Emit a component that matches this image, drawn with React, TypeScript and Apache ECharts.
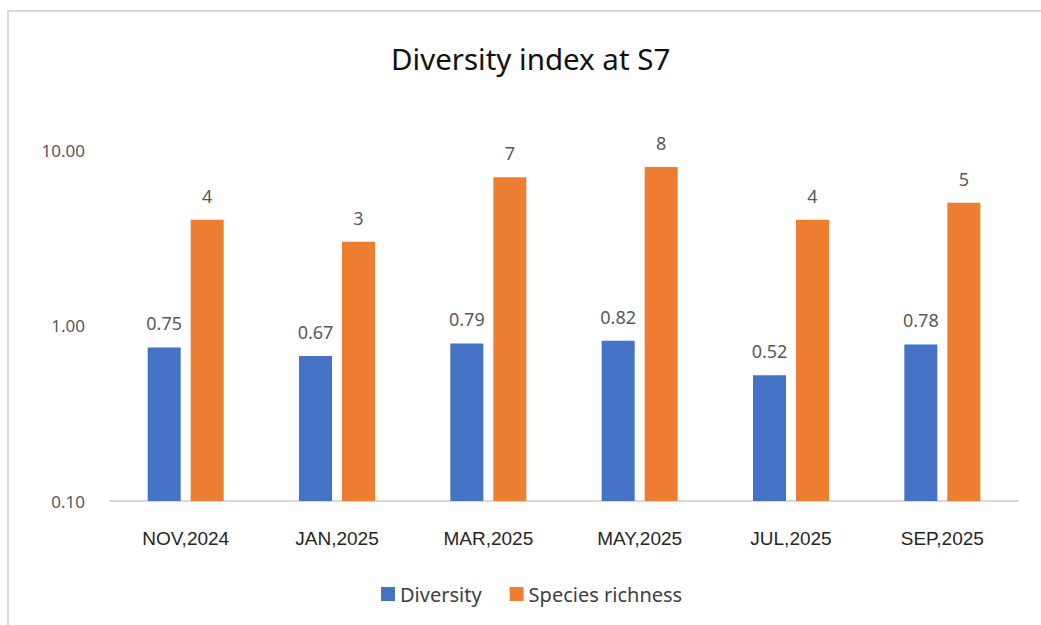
import React, { useEffect, useRef } from "react";
import * as echarts from "echarts";

const categories = ["NOV,2024", "JAN,2025", "MAR,2025", "MAY,2025", "JUL,2025", "SEP,2025"];
const diversity = [0.75, 0.67, 0.79, 0.82, 0.52, 0.78];
const speciesRichness = [4, 3, 7, 8, 4, 5];
const seriesNames = ["Diversity", "Species richness"];
const seriesColors = ["#4472C4", "#ED7D31"];
const titleText = "Diversity index at S7";
const axisMin = 0.1;
const axisMax = 10;

const BAR_W = 33;
const BAR_GAP = 10;

function makeRender(offsetSign: number, color: string, fmt: (v: number) => string) {
  return (params: any, api: any) => {
    const idx = api.value(0);
    const val = api.value(1);
    const top = api.coord([idx, val]);
    const base = api.coord([idx, axisMin]);
    const cx = top[0] + offsetSign * (BAR_W / 2 + BAR_GAP / 2);
    return {
      type: "rect",
      shape: { x: cx - BAR_W / 2, y: top[1], width: BAR_W, height: base[1] - top[1] },
      style: { fill: color },
      textContent: {
        style: {
          text: fmt(val),
          fill: "#595959",
          fontSize: 18,
          fontFamily: "Noto Sans",
        },
      },
      textConfig: { position: "top", distance: 15 },
    };
  };
}

export default function App() {
  const ref = useRef<HTMLDivElement>(null);
  useEffect(() => {
    if (!ref.current) return;
    const chart = echarts.init(ref.current, undefined, { renderer: "svg" });
    chart.setOption({
      animation: false,
      backgroundColor: "#ffffff",
      title: {
        text: titleText,
        left: 386,
        top: 38,
        textStyle: { fontSize: 29.5, fontWeight: "normal", color: "#111111", fontFamily: "Noto Sans" },
      },
      graphic: [
        {
          type: "rect",
          shape: { x: 8, y: 11, width: 1200, height: 800 },
          style: { fill: "none", stroke: "#d9d9d9", lineWidth: 2 },
          silent: true,
        },
      ],
      legend: {
        data: seriesNames.map((n, i) => ({ name: n, itemStyle: { color: seriesColors[i] } })),
        bottom: 16,
        left: 376,
        icon: "rect",
        itemWidth: 14,
        itemHeight: 14,
        itemGap: 28,
        textStyle: { fontSize: 20, color: "#404040", fontFamily: "Noto Sans" },
      },
      grid: { left: 110, right: 23, top: 150, bottom: 124, containLabel: false },
      xAxis: {
        type: "category",
        data: categories,
        axisLine: { show: true, lineStyle: { color: "#d9d9d9", width: 2 } },
        axisTick: { show: false },
        axisLabel: { margin: 28, fontSize: 19, color: "#262626", fontFamily: "Liberation Sans" },
      },
      yAxis: {
        type: "log",
        logBase: 10,
        min: axisMin,
        max: axisMax,
        axisLine: { show: false },
        axisTick: { show: false },
        splitLine: { show: false },
        axisLabel: {
          margin: 25,
          fontSize: 17,
          color: "#595959",
          fontFamily: "Noto Sans",
          formatter: (v: number) => v.toFixed(2),
        },
      },
      series: [
        {
          name: seriesNames[0],
          type: "custom",
          data: diversity.map((v, i) => [i, v]),
          encode: { x: 0, y: 1 },
          itemStyle: { color: seriesColors[0] },
          renderItem: makeRender(-1, seriesColors[0], (v) => v.toFixed(2)),
        },
        {
          name: seriesNames[1],
          type: "custom",
          data: speciesRichness.map((v, i) => [i, v]),
          encode: { x: 0, y: 1 },
          itemStyle: { color: seriesColors[1] },
          renderItem: makeRender(1, seriesColors[1], (v) => String(v)),
        },
      ],
    });
    return () => chart.dispose();
  }, []);
  return (
    <div
      ref={ref}
      style={{ position: "fixed", left: 0, top: 0, width: 1041, height: 625 }}
    />
  );
}
